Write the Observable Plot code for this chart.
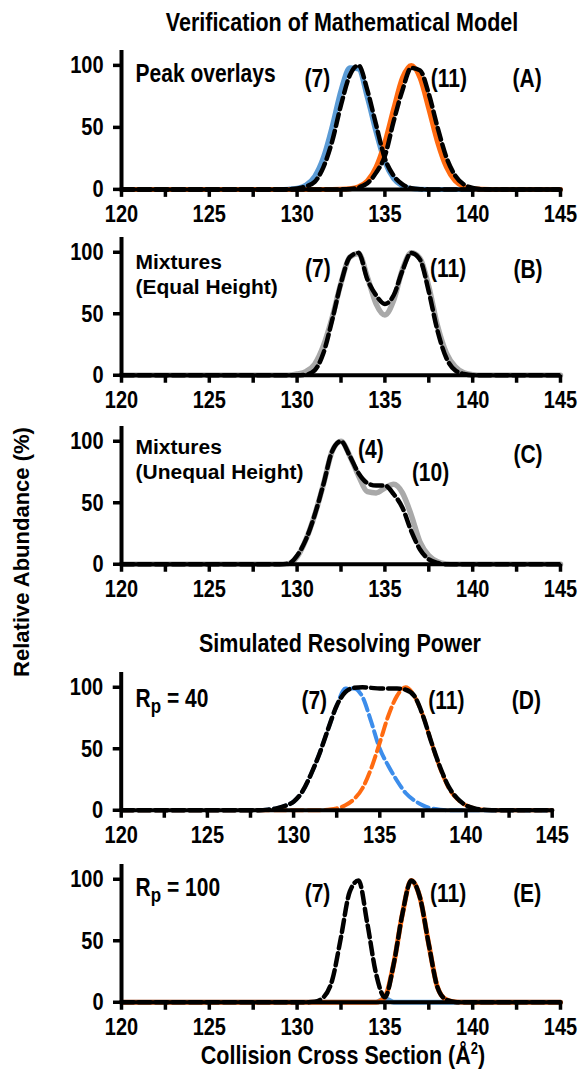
<!DOCTYPE html>
<html><head><meta charset="utf-8">
<script src="https://cdn.jsdelivr.net/npm/d3@7"></script>
<script src="https://cdn.jsdelivr.net/npm/@observablehq/plot@0.6"></script>
<style>
body{margin:0;background:#fff;}
#wrap{position:relative;width:579px;height:1069px;overflow:hidden;font-family:"Liberation Sans",Arial,sans-serif;font-weight:bold;color:#000;background:#fff;}
.t{position:absolute;white-space:nowrap;font-size:21.5px;line-height:1;}
</style></head><body><div id="wrap"></div>
<script>
// Collision cross section grid (Å²)
const ccs = [120,128,128.5,129,129.5,130,130.5,131,131.5,132,132.5,133,133.5,134,134.5,135,135.5,136,136.5,137,137.5,138,138.5,139,139.5,140,140.5,141,141.5,142,145];
const xTicks = [120,122.5,125,127.5,130,132.5,135,137.5,140,142.5,145];
const yTicks = [0,50,100];

// (A) Peak overlays
const aSolid7  = [0,0,0,0,0.2,0.9,3.4,10.6,26,51,80,98,97,74,46,22,8.6,2.7,0.6,0.1,0,0,0,0,0,0,0,0,0,0,0];
const aSolid11 = [0,0,0,0,0,0,0,0,0,0,0.1,0.5,2.1,6.8,18,38,65,90,100,90,65,38,18,6.8,2.1,0.5,0.1,0,0,0,0];
const aModel7  = [0,0,0,0,0.2,0.7,2.4,6,18,39,68,92,100,80,52,25,11,4,1,0.2,0,0,0,0,0,0,0,0,0,0,0];
const aModel11 = [0,0,0,0,0,0,0,0,0,0,0,0.3,1.5,4.9,13.5,27,55,80,98,96,77,50,26,11.2,3.9,1.1,0.3,0,0,0,0];
// (B) Mixtures, equal height
const bMeasured = [0,0,0,0,0,1,3,9,24,47,75,96,99,80,58,49,61,86,99.5,95,72,40,18,7,2,0.5,0,0,0,0,0];
const bModel    = [0,0,0,0,0,0,0.5,4,18,45,75,96,99.5,78,65,58,65,85,99.5,94,68,36,14,4,1,0,0,0,0,0,0];
// (C) Mixtures, unequal height
const cMeasured = [0,0,0,0,0.5,6,20,40,65,92,100,88,72,59,58,62,65,58,40,18,7,2,0.3,0,0,0,0,0,0,0,0];
const cModel    = [0,0,0,0,0.5,7,20,40,65,92,100,88,74,66,64,64,57,46,27,12,4,1,0,0,0,0,0,0,0,0,0];
// (D) Rp = 40
const dSim7   = [0,0.1,0.5,1.5,3.5,7,15,29,46,66,85,99,99,92,72,50,36,24,14,8,4,1.5,0.5,0,0,0,0,0,0,0,0];
const dSim11  = [0,0,0,0,0,0,0,0,0,0.5,1.5,4,9,18,34,55,77,93,100,93,77,55,34,18,9,4,1.5,0.5,0.2,0,0];
const dSimMix = [0,0,0.5,1.5,3.5,7,15,29,46,66,85,96,99.5,100,99.5,99,99,99,98,93,77,55,35,19,9.5,4,1.5,0.5,0.1,0,0];
// (E) Rp = 100
const eMeasured7  = [0,0,0,0,0,0,0,0,0,0,0,0,0,0,0,3,0,0,0,0,0,0,0,0,0,0,0,0,0,0,0];
const eMeasured11 = [0,0,0,0,0,0,0,0,0,0,0,0,0,0,0,4,31,72,99,85,47,12,2,0.3,0,0,0,0,0,0,0];
const eSim        = [0,0,0,0,0,0,0,0.5,4,18,53,90,99,64,23,4,31,72,99,85,47,12,2,0.3,0,0,0,0,0,0,0];

const wrap = document.getElementById("wrap");
const FONT = '"Liberation Sans", Arial, sans-serif';
const BLUE = "#5B9BD5", BLUE_D = "#3C8DEB", ORANGE = "#FF6A10", GRAY = "#A9A9A9";
const DASH = "12,5";

function subscriptRp(svg) {
  const ns = "http://www.w3.org/2000/svg";
  svg.querySelectorAll("text").forEach(el => {
    const s = el.textContent;
    if (s.startsWith("Rp")) {
      el.textContent = "";
      const t1 = document.createElementNS(ns, "tspan"); t1.textContent = "R";
      const t2 = document.createElementNS(ns, "tspan"); t2.textContent = "p";
      t2.setAttribute("dy", "5"); t2.setAttribute("font-size", "17");
      const t3 = document.createElementNS(ns, "tspan"); t3.textContent = s.slice(2);
      t3.setAttribute("dy", "-5");
      el.append(t1, t2, t3);
    }
  });
}
function stretchTexts(svg, s) {
  svg.querySelectorAll("text").forEach(el => {
    if (el.textContent.startsWith("Mixtures")) return; // two-line labels keep natural height
    const b = el.getBBox();
    const cx = b.x + b.width / 2, cy = b.y + b.height / 2;
    const t = el.getAttribute("transform") || "";
    el.setAttribute("transform", `${t} translate(${cx},${cy}) scale(1,${s}) translate(${-cx},${-cy})`);
  });
}

function panel(cfg) {
  const {y0, k, x0, x1, series, notes} = cfg;
  const mt = 12, mb = 46, yTop = 112;
  const H = mt + yTop * k + mb;
  const marks = series.map(s => {
    const rows = ccs.map((x, i) => ({x, y: s.values[i]}));
    return Plot.line(rows, {x: "x", y: "y", stroke: s.color, strokeWidth: s.width,
      strokeDasharray: s.dash, curve: "monotone-x", strokeLinejoin: "round"});
  });
  marks.push(
    Plot.ruleY([0], {stroke: "#000", strokeWidth: 4}),
    Plot.ruleX([120], {stroke: "#000", strokeWidth: 4}),
    Plot.axisX({ticks: xTicks, tickSize: 8, tickPadding: 9, strokeWidth: 3.5, label: null,
      fontSize: 20, fontWeight: "bold", tickFormat: d => d % 5 === 0 ? String(d) : ""}),
    Plot.axisY({ticks: yTicks, tickSize: 8, tickPadding: 10, strokeWidth: 3.5, label: null,
      fontSize: 20, fontWeight: "bold"}),
    ...notes.map(n => Plot.text([n.text], {text: d => d, x: n.x, y: n.y,
      textAnchor: n.anchor || "middle", lineAnchor: "middle", lineHeight: 1.19,
      fontSize: 21, fontWeight: "bold", fill: "#000"}))
  );
  const svg = Plot.plot({
    width: 579, height: H, marginLeft: x0, marginRight: 579 - x1, marginTop: mt, marginBottom: mb,
    x: {domain: [120, 145], label: null}, y: {domain: [0, yTop], label: null},
    style: {fontFamily: FONT, fontWeight: "bold", fontSize: "20px", overflow: "visible", background: "transparent", color: "#000"},
    marks
  });
  svg.style.position = "absolute";
  svg.style.left = "0px";
  svg.style.top = (y0 - yTop * k - mt) + "px";
  wrap.appendChild(svg);
  subscriptRp(svg);
  stretchTexts(svg, 1.2);
}

function addText(html, cx, cy, transformExtra, size) {
  const d = document.createElement("div");
  d.className = "t";
  d.innerHTML = html;
  d.style.left = cx + "px";
  d.style.top = cy + "px";
  if (size) d.style.fontSize = size + "px";
  d.style.transform = "translate(-50%,-50%) " + transformExtra;
  wrap.appendChild(d);
}

panel({y0: 188.5, k: 1.24, x0: 121, x1: 560,
  series: [
    {values: aSolid7, color: BLUE, width: 5},
    {values: aSolid11, color: ORANGE, width: 5},
    {values: aModel7, color: "#000", width: 4.5, dash: DASH},
    {values: aModel11, color: "#000", width: 4.5, dash: DASH}
  ],
  notes: [
    {text: "Peak overlays", x: 120.8, y: 94, anchor: "start"},
    {text: "(7)", x: 131.15, y: 90},
    {text: "(11)", x: 138.64, y: 90},
    {text: "(A)", x: 143.1, y: 90}
  ]});

panel({y0: 375, k: 1.23, x0: 121, x1: 560,
  series: [
    {values: bMeasured, color: GRAY, width: 5.5},
    {values: bModel, color: "#000", width: 4.5, dash: DASH}
  ],
  notes: [
    {text: "Mixtures\n(Equal Height)", x: 120.8, y: 82.9, anchor: "start"},
    {text: "(7)", x: 131.18, y: 87.4},
    {text: "(11)", x: 138.6, y: 87.4},
    {text: "(B)", x: 143.15, y: 87}
  ]});

panel({y0: 563.3, k: 1.23, x0: 121, x1: 560,
  series: [
    {values: cMeasured, color: GRAY, width: 5.5},
    {values: cModel, color: "#000", width: 4.5, dash: DASH}
  ],
  notes: [
    {text: "Mixtures\n(Unequal Height)", x: 120.8, y: 85.9, anchor: "start"},
    {text: "(4)", x: 134.2, y: 94},
    {text: "(10)", x: 137.6, y: 75.8},
    {text: "(C)", x: 143.15, y: 89.7}
  ]});

panel({y0: 810, k: 1.23, x0: 120.7, x1: 551.7,
  series: [
    {values: dSim7, color: BLUE_D, width: 4, dash: DASH},
    {values: dSim11, color: ORANGE, width: 4, dash: DASH},
    {values: dSimMix, color: "#000", width: 4.5, dash: DASH}
  ],
  notes: [
    {text: "Rp = 40", x: 120.83, y: 91, anchor: "start"},
    {text: "(7)", x: 131.2, y: 90},
    {text: "(11)", x: 138.86, y: 90},
    {text: "(D)", x: 143.5, y: 90}
  ]});

panel({y0: 1001.7, k: 1.23, x0: 121, x1: 560,
  series: [
    {values: eMeasured7, color: BLUE, width: 5},
    {values: eMeasured11, color: ORANGE, width: 5},
    {values: eSim, color: "#000", width: 4.5, dash: DASH}
  ],
  notes: [
    {text: "Rp = 100", x: 120.8, y: 94, anchor: "start"},
    {text: "(7)", x: 131.16, y: 89.6},
    {text: "(11)", x: 138.6, y: 89.6},
    {text: "(E)", x: 143.1, y: 89.6}
  ]});

addText("Verification of Mathematical Model", 342, 23, "scaleY(1.2)", 21.5);
addText("Simulated Resolving Power", 340, 645, "scaleY(1.2)", 21.5);
addText('Collision Cross Section (Å<span style="font-size:13px;position:relative;top:-9px;">2</span>)', 343, 1057, "scaleY(1.2)", 21.5);
addText("Relative Abundance (%)", 22, 552, "rotate(-90deg)", 22);
</script>
</body></html>
